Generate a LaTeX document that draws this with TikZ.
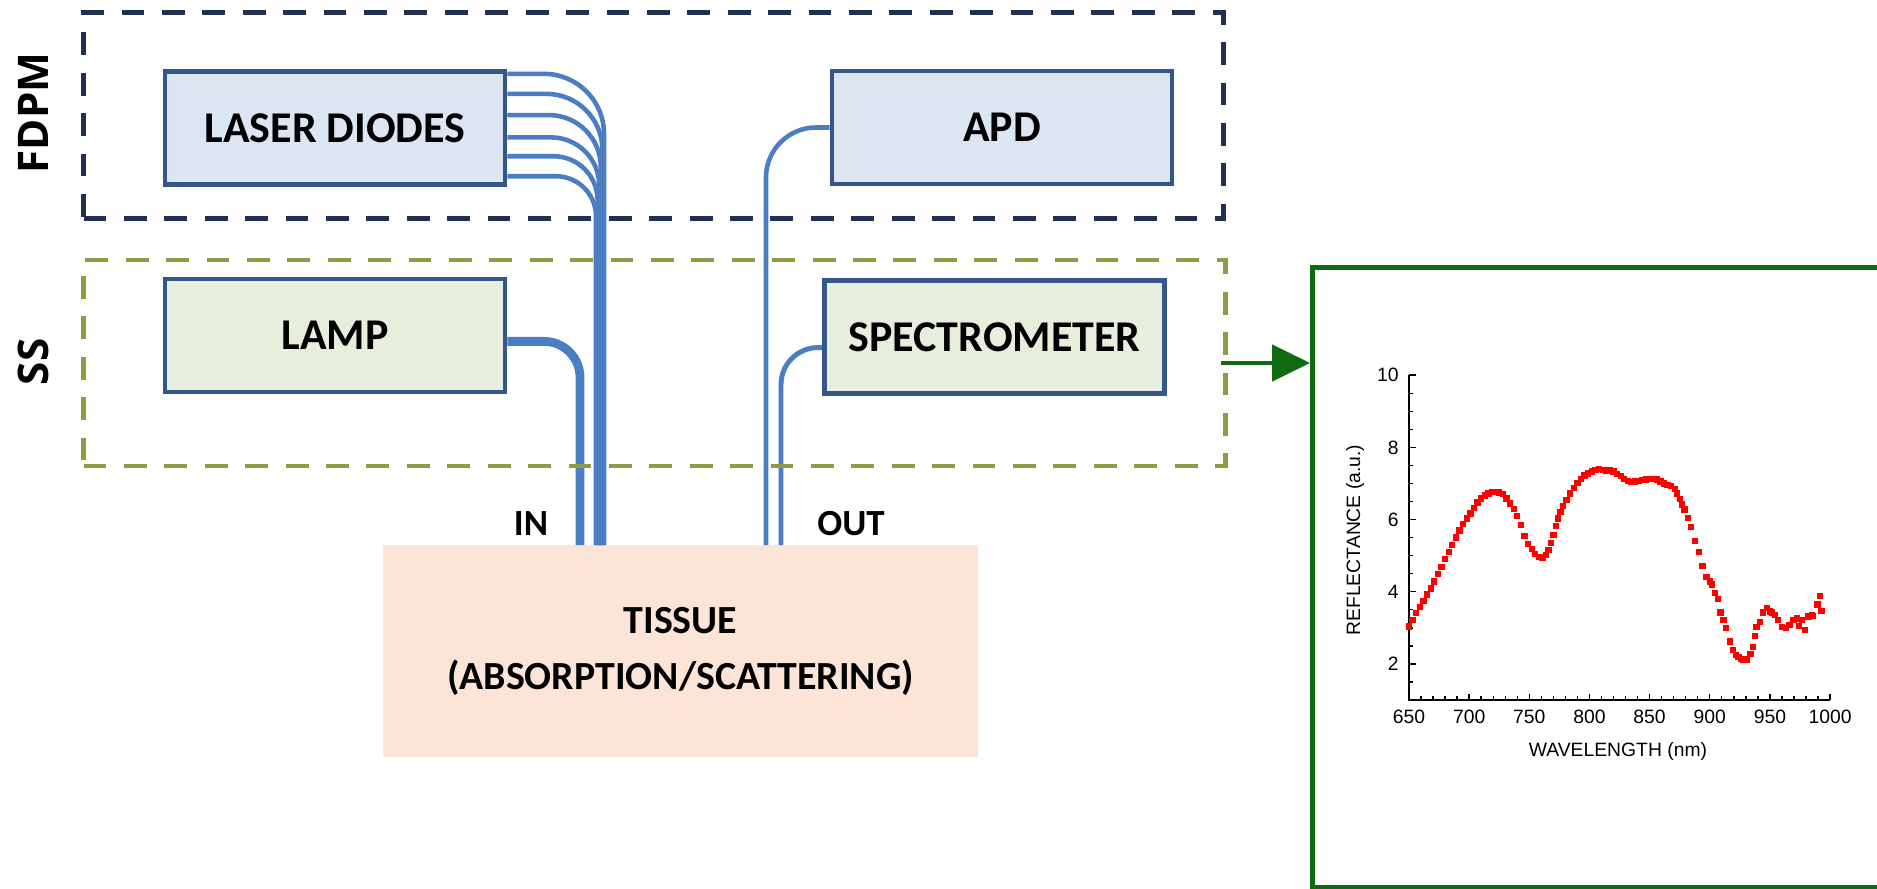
\documentclass[tikz,border=0pt]{standalone}
\usepackage{fontspec}
\setmainfont{Carlito}
\newfontfamily\sidefont{Open Sans}
\newfontfamily\plotfont{Liberation Sans}
\usetikzlibrary{arrows.meta,calc}

\definecolor{navydash}{HTML}{1F3050}
\definecolor{olivedash}{HTML}{8C9B45}
\definecolor{boxline}{HTML}{35568A}
\definecolor{bluefill}{HTML}{DCE6F2}
\definecolor{greenfill}{HTML}{E8EEDC}
\definecolor{fibreblue}{HTML}{4A7DC2}
\definecolor{tissuefill}{HTML}{FCE4D6}
\definecolor{darkgreen}{HTML}{0F6B12}

\begin{document}
\begin{tikzpicture}[x=0.02cm,y=-0.02cm,
  unit/.style={draw=boxline,line width=2.7pt,minimum width=6.8cm,minimum height=2.26cm,inner sep=0pt,
    font=\fontsize{25}{30}\selectfont\bfseries},
  group/.style={line width=2.8pt,dash pattern=on 13pt off 10pt,minimum height=4.12cm,inner sep=0pt},
  fibre/.style={draw=fibreblue,line width=2.6pt},
  side/.style={rotate=90,font=\sidefont\fontsize{24}{28}\selectfont\bfseries},
  port/.style={font=\fontsize{21}{25}\selectfont\bfseries}]
\useasboundingbox (0,0) rectangle (1877,889);
\clip (0,0) rectangle (1877,889);

\node[unit,fill=bluefill] (ld) at (335,128) {LASER DIODES};
\node[unit,fill=bluefill] (apd) at (1002,127.5) {APD};
\node[unit,fill=greenfill] (lamp) at (335,335.5) {LAMP};
\node[unit,fill=greenfill] (spec) at (994.5,337) {SPECTROMETER};
\node[fill=tissuefill,minimum width=11.9cm,minimum height=4.24cm,align=center,
  font=\fontsize{22.7}{31.8}\selectfont\bfseries] (tissue) at (680.5,651) {TISSUE\\(ABSORPTION/SCATTERING)};

\coordinate (in1) at (580,545);
\coordinate (out1) at (766,545);
\coordinate (out2) at (781,545);

% fibres
\foreach \f/\xe/\r in {0.04/604/1.2,0.21/602.4/1.12,0.39/600.8/1.04,0.58/599.2/0.96,0.74/597.6/0.88,0.91/596/0.8}
  \draw[fibre,rounded corners=\r cm] ($(ld.north east)!\f!(ld.south east)$) -| (\xe,545);
\draw[fibre,line width=5pt,rounded corners=0.72cm] ($(lamp.north east)!0.55!(lamp.south east)$) -| (in1);
\draw[fibre,line width=2.6pt,rounded corners=1cm] (apd.west) -| (out1);
\draw[fibre,line width=2.8pt,rounded corners=0.74cm] ($(spec.north west)!0.59!(spec.south west)$) -| (out2);

\node[group,draw=navydash,minimum width=22.8cm] (fdpm) at (653.4,115.4) {};
\node[group,draw=olivedash,minimum width=22.84cm] (ss) at (654.5,363) {};
\node[side] (fdpmlabel) at (33,113) {FDPM};
\node[side] (sslabel) at (33,362) {SS};
\node[port] (inlabel) at (531,524) {IN};
\node[port] (outlabel) at (851,524) {OUT};

\node[draw=darkgreen,line width=2.8pt,minimum width=13cm,minimum height=12.41cm,inner sep=0pt] (spectrum) at (1637.5,577.75) {};
\draw[darkgreen,line width=2.6pt,-{Triangle[length=0.76cm,width=0.72cm]}] ([xshift=-4pt]ss.east) -- (ss.east -| spectrum.west);

% reflectance spectrum
\begin{scope}[shift={(1409,700)},x=0.02406cm,y=0.722cm,shift={(-650,-1)},font=\plotfont\fontsize{11}{13}\selectfont]
\draw[line width=1.2pt] (650,10) -- (650,1) -- (1000,1);
\foreach \w in {650,660,...,1000} \draw[line width=0.8pt] (\w,1) -- ++(0,0.1);
\foreach \w in {650,700,...,1000} {
  \draw[line width=0.8pt] (\w,1) -- ++(0,0.18);
  \node at (\w,0.53) {\w};
}
\foreach \v in {1,1.5,...,10} \draw[line width=0.8pt] (650,\v) -- ++(3.3,0);
\foreach \v in {2,4,...,10} {
  \draw[line width=0.8pt] (650,\v) -- ++(5.8,0);
  \node[anchor=east,inner sep=0pt] at (641.7,\v) {\v};
}
\node[rotate=90] at (605.1,5.43) {REFLECTANCE (a.u.)};
\node at (823.7,-0.44) {WAVELENGTH (nm)};
\foreach \p/\q in {
650/3.04,653/3.22,656/3.41,659/3.57,662/3.74,665/3.92,668/4.09,671/4.28,674/4.49,677/4.69,
680/4.9,683/5.11,686/5.3,689/5.5,692/5.7,695/5.87,698/6.03,701/6.17,704/6.32,707/6.47,
710/6.58,713/6.67,716/6.72,719/6.76,722/6.77,725/6.75,728/6.7,731/6.58,734/6.44,737/6.3,
740/6.1,743/5.85,746/5.55,749/5.33,752/5.18,755/5.05,758/4.96,761/4.95,764/5.02,766/5.15,
768/5.35,770/5.58,772/5.82,774/6.03,776/6.2,778/6.38,781/6.55,784/6.72,787/6.88,790/7.02,
793/7.12,796/7.22,799/7.28,802/7.33,805/7.38,808/7.4,811/7.38,814/7.36,817/7.36,820/7.33,
823/7.27,826/7.2,829/7.12,832/7.06,835/7.04,838/7.05,841/7.06,844/7.09,847/7.11,850/7.12,
853/7.13,856/7.11,859/7.05,862/7.0,865/6.95,868/6.92,871/6.85,873/6.72,875/6.57,
877/6.42,879/6.28,882/6.04,884.5/5.8,888/5.41,891/5.1,894/4.72,897.4/4.4,900/4.28,902/4.2,
904.4/3.97,907/3.8,909/3.42,911.4/3.22,913.5/2.99,916.9/2.62,919.6/2.39,922/2.25,923.8/2.2,
926/2.14,928/2.11,930.6/2.12,934/2.27,935.7/2.46,937.6/2.77,939/3.03,941.8/3.17,944/3.42,
947.4/3.54,950/3.45,952/3.42,954.3/3.35,957/3.22,959.9/3.03,963.4/2.99,966.2/3.08,969.5/3.22,
972.3/3.26,974/3.05,976.7/3.22,979.2/2.94,982/3.31,984.8/3.35,986/3.33,989.7/3.65,991.6/3.88,993/3.47}
  \fill[red] (\p,\q) +(-1.8pt,-1.8pt) rectangle +(1.8pt,1.8pt);
\end{scope}
\end{tikzpicture}
\end{document}
